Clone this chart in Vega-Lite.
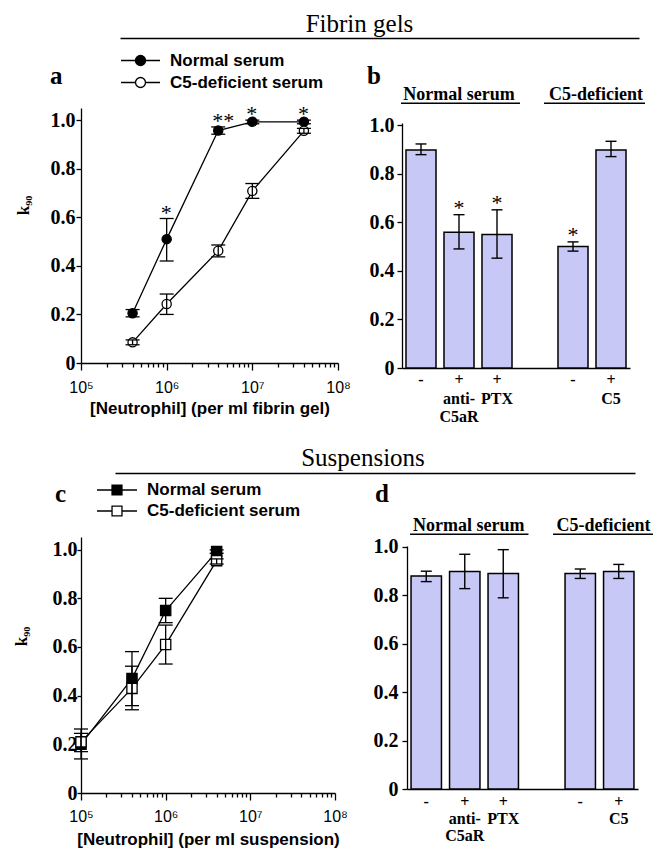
{
  "$schema": "https://vega.github.io/schema/vega-lite/v6.json",
  "background": "white",
  "padding": {"left": 12, "top": 11, "right": 4, "bottom": 4},
  "config": {
    "view": {"stroke": null},
    "axis": {"domainColor": "black", "domainWidth": 1.3, "tickColor": "black", "tickWidth": 1.3, "labelColor": "black", "titleColor": "black", "grid": false},
    "text": {"color": "black"}
  },
  "datasets": {
    "sections": [{"section": "Fibrin gels"}, {"section": "Suspensions"}],
    "fibrin_curves": [
      {"neutrophils": 400000, "serum": "Normal serum", "k90": 0.205, "lo": 0.19, "hi": 0.22, "sig": ""},
      {"neutrophils": 1000000, "serum": "Normal serum", "k90": 0.51, "lo": 0.42, "hi": 0.595, "sig": "*"},
      {"neutrophils": 4000000, "serum": "Normal serum", "k90": 0.957, "lo": 0.942, "hi": 0.972, "sig": "**"},
      {"neutrophils": 10000000, "serum": "Normal serum", "k90": 0.993, "lo": 0.985, "hi": 1.0, "sig": "*"},
      {"neutrophils": 40000000, "serum": "Normal serum", "k90": 0.993, "lo": 0.985, "hi": 1.0, "sig": "*"},
      {"neutrophils": 400000, "serum": "C5-deficient serum", "k90": 0.085, "lo": 0.075, "hi": 0.095, "sig": ""},
      {"neutrophils": 1000000, "serum": "C5-deficient serum", "k90": 0.243, "lo": 0.2, "hi": 0.284, "sig": ""},
      {"neutrophils": 4000000, "serum": "C5-deficient serum", "k90": 0.462, "lo": 0.437, "hi": 0.486, "sig": ""},
      {"neutrophils": 10000000, "serum": "C5-deficient serum", "k90": 0.708, "lo": 0.678, "hi": 0.739, "sig": ""},
      {"neutrophils": 40000000, "serum": "C5-deficient serum", "k90": 0.956, "lo": 0.946, "hi": 0.966, "sig": ""}
    ],
    "suspension_curves": [
      {"neutrophils": 100000, "serum": "Normal serum", "k90": 0.2, "lo": 0.14, "hi": 0.263},
      {"neutrophils": 400000, "serum": "Normal serum", "k90": 0.47, "lo": 0.359, "hi": 0.581},
      {"neutrophils": 1000000, "serum": "Normal serum", "k90": 0.75, "lo": 0.7, "hi": 0.8},
      {"neutrophils": 4000000, "serum": "Normal serum", "k90": 0.992, "lo": 0.985, "hi": 0.999},
      {"neutrophils": 100000, "serum": "C5-deficient serum", "k90": 0.21, "lo": 0.17, "hi": 0.245},
      {"neutrophils": 400000, "serum": "C5-deficient serum", "k90": 0.43, "lo": 0.342, "hi": 0.521},
      {"neutrophils": 1000000, "serum": "C5-deficient serum", "k90": 0.61, "lo": 0.53, "hi": 0.69},
      {"neutrophils": 4000000, "serum": "C5-deficient serum", "k90": 0.955, "lo": 0.941, "hi": 0.962}
    ],
    "fibrin_bars": [
      {"condition": "Normal serum", "k90": 0.897, "lo": 0.878, "hi": 0.922, "sig": ""},
      {"condition": "Normal serum + anti-C5aR", "k90": 0.559, "lo": 0.49, "hi": 0.631, "sig": "*"},
      {"condition": "Normal serum + PTX", "k90": 0.549, "lo": 0.452, "hi": 0.651, "sig": "*"},
      {"condition": "C5-deficient serum", "k90": 0.5, "lo": 0.481, "hi": 0.519, "sig": "*"},
      {"condition": "C5-deficient serum + C5", "k90": 0.897, "lo": 0.87, "hi": 0.933, "sig": ""}
    ],
    "suspension_bars": [
      {"condition": "Normal serum", "k90": 0.88, "lo": 0.857, "hi": 0.9},
      {"condition": "Normal serum + anti-C5aR", "k90": 0.899, "lo": 0.828, "hi": 0.97},
      {"condition": "Normal serum + PTX", "k90": 0.89, "lo": 0.79, "hi": 0.989},
      {"condition": "C5-deficient serum", "k90": 0.89, "lo": 0.87, "hi": 0.909},
      {"condition": "C5-deficient serum + C5", "k90": 0.899, "lo": 0.87, "hi": 0.928}
    ],
    "fibrin_bar_headers": [
      {"header": "Normal serum", "start": "Normal serum", "center": "Normal serum + anti-C5aR", "end": "Normal serum + PTX", "text_level": 1.103, "line_level": 1.09},
      {"header": "C5-deficient", "start": "C5-deficient serum", "center": "C5-deficient serum + C5", "end": "C5-deficient serum + C5", "text_level": 1.103, "line_level": 1.09}
    ],
    "suspension_bar_headers": [
      {"header": "Normal serum", "start": "Normal serum", "center": "Normal serum + anti-C5aR", "end": "Normal serum + PTX", "text_level": 1.066, "line_level": 1.053},
      {"header": "C5-deficient", "start": "C5-deficient serum", "center": "C5-deficient serum + C5", "end": "C5-deficient serum + C5", "text_level": 1.066, "line_level": 1.053}
    ]
  },
  "resolve": {"scale": {"fill": "independent"}, "legend": {"fill": "independent"}},
  "spacing": 21,
  "vconcat": [
    {
      "spacing": 14,
      "resolve": {"scale": {"fill": "independent"}, "legend": {"fill": "independent"}},
      "vconcat": [
        {
          "spacing": 10,
          "hconcat": [
            {"width": 29, "height": 13, "data": {"values": []}, "mark": "point"},
            {
              "width": 519, "height": 13,
              "data": {"name": "sections"},
              "transform": [{"filter": "datum.section == 'Fibrin gels'"}],
              "mark": {"type": "text", "font": "Liberation Serif", "fontSize": 25, "baseline": "alphabetic", "dx": -20, "color": "black"},
              "encoding": {
                "text": {"field": "section"},
                "x": {"datum": 0.5, "type": "quantitative", "scale": {"domain": [0, 1]}, "axis": {"domain": true, "domainWidth": 1.3, "ticks": false, "labels": false, "grid": false, "title": null}}
              }
            }
          ]
        },
        {
          "spacing": 16,
          "resolve": {"scale": {"fill": "shared"}, "legend": {"fill": "shared"}},
          "hconcat": [
            {
              "width": 257, "height": 255,
              "title": {"text": "a", "anchor": "start", "frame": "group", "font": "Liberation Serif", "fontSize": 25, "fontWeight": "bold", "color": "black", "dx": -31, "offset": 14},
              "data": {"name": "fibrin_curves"},
              "encoding": {
                "x": {"field": "neutrophils", "type": "quantitative", "scale": {"type": "log", "domain": [100000, 100000000]},
                  "axis": {
                    "title": "[Neutrophil] (per ml fibrin gel)",
                    "values": [100000, 200000, 300000, 400000, 500000, 600000, 700000, 800000, 900000, 1000000, 2000000, 3000000, 4000000, 5000000, 6000000, 7000000, 8000000, 9000000, 10000000, 20000000, 30000000, 40000000, 50000000, 60000000, 70000000, 80000000, 90000000, 100000000],
                    "labelExpr": "datum.value == 100000 ? '10⁵' : datum.value == 1000000 ? '10⁶' : datum.value == 10000000 ? '10⁷' : datum.value == 100000000 ? '10⁸' : ''",
                    "tickSize": {"condition": {"test": "indexof([100000, 1000000, 10000000, 100000000], datum.value) >= 0", "value": 7}, "value": 4},
                    "labelFont": "Liberation Sans", "labelFontSize": 16, "labelPadding": 9, "labelFlush": false, "labelOverlap": false,
                    "titleFont": "Liberation Sans", "titleFontSize": 17, "titleFontWeight": "bold", "titlePadding": 5
                  }
                },
                "y": {"field": "k90", "type": "quantitative", "scale": {"domain": [0, 1.05]},
                  "axis": {
                    "title": "k₉₀", "values": [0, 0.2, 0.4, 0.6, 0.8, 1],
                    "labelExpr": "datum.value == 0 ? '0' : format(datum.value, '.1f')",
                    "tickSize": 5, "labelFont": "Liberation Serif", "labelFontWeight": "bold", "labelFontSize": 20, "labelPadding": 1, "labelFlush": false,
                    "titleFont": "Liberation Serif", "titleFontWeight": "bold", "titleFontSize": 17, "titlePadding": 18, "titleY": 97
                  }
                }
              },
              "layer": [
                {"mark": {"type": "line", "color": "black", "strokeWidth": 1.3}, "encoding": {"detail": {"field": "serum"}}},
                {"mark": {"type": "point", "shape": "circle", "size": 85, "filled": true, "stroke": "black", "strokeWidth": 1.3, "opacity": 1},
                  "encoding": {"fill": {"field": "serum", "type": "nominal", "scale": {"domain": ["Normal serum", "C5-deficient serum"], "range": ["black", "white"]},
                    "legend": {"title": null, "orient": "none", "legendX": 51, "legendY": -56,
                      "symbolType": "M-2.5,0H-0.64A0.64,0.64 0 1,1 0.64,0A0.64,0.64 0 1,1 -0.64,0M0.64,0H2.5",
                      "symbolSize": 243, "symbolStrokeColor": "black", "symbolStrokeWidth": 1.3, "symbolOpacity": 1,
                      "labelFont": "Liberation Sans", "labelFontWeight": "bold", "labelFontSize": 17, "labelColor": "black", "labelOffset": 21, "rowPadding": 4, "labelLimit": 400}}}},
                {"mark": {"type": "rule", "color": "black", "strokeWidth": 1.3}, "encoding": {"y": {"field": "lo", "type": "quantitative"}, "y2": {"field": "hi"}}},
                {"mark": {"type": "tick", "orient": "horizontal", "color": "black", "size": 14, "thickness": 1.3, "opacity": 1}, "encoding": {"y": {"field": "lo", "type": "quantitative"}}},
                {"mark": {"type": "tick", "orient": "horizontal", "color": "black", "size": 14, "thickness": 1.3, "opacity": 1}, "encoding": {"y": {"field": "hi", "type": "quantitative"}}},
                {"transform": [{"filter": "datum.sig != ''"}],
                  "mark": {"type": "text", "font": "Liberation Serif", "fontSize": 22, "align": "left", "dx": -6, "dy": 1, "baseline": "alphabetic", "color": "black", "clip": false},
                  "encoding": {"y": {"field": "hi", "type": "quantitative"}, "text": {"field": "sig"}}}
              ]
            },
            {
              "width": 228, "height": 260,
              "title": {"text": "b", "anchor": "start", "frame": "group", "font": "Liberation Serif", "fontSize": 25, "fontWeight": "bold", "color": "black", "dx": -35, "offset": -3},
              "encoding": {
                "x": {"field": "condition", "type": "nominal",
                  "scale": {"domain": ["Normal serum", "Normal serum + anti-C5aR", "Normal serum + PTX", " ", "C5-deficient serum", "C5-deficient serum + C5"], "paddingInner": 0.21, "paddingOuter": 0.105},
                  "axis": {"title": null, "ticks": false, "labelAngle": 0,
                    "labelExpr": "datum.value == 'Normal serum' || datum.value == 'C5-deficient serum' ? '-' : datum.value == 'Normal serum + anti-C5aR' ? ['+', 'anti-', 'C5aR'] : datum.value == 'Normal serum + PTX' ? ['+', 'PTX'] : datum.value == 'C5-deficient serum + C5' ? ['+', 'C5'] : ''",
                    "labelFont": "Liberation Serif", "labelFontWeight": "bold", "labelFontSize": 16, "labelLineHeight": 18.5, "labelPadding": 3.5, "labelBaseline": "top"}},
                "y": {"field": "k90", "type": "quantitative", "scale": {"domain": [0, 1.07]},
                  "axis": {"title": null, "values": [0, 0.2, 0.4, 0.6, 0.8, 1], "domainDash": [245, 40],
                    "labelExpr": "datum.value == 0 ? '0' : format(datum.value, '.1f')",
                    "tickSize": 5, "labelFont": "Liberation Serif", "labelFontWeight": "bold", "labelFontSize": 20, "labelPadding": 3, "labelFlush": false}}
              },
              "layer": [
                {"data": {"name": "fibrin_bars"}, "mark": {"type": "bar", "fill": "#c8c8f7", "stroke": "black", "strokeWidth": 1.5}},
                {"data": {"name": "fibrin_bars"}, "mark": {"type": "rule", "color": "black", "strokeWidth": 1.4}, "encoding": {"y": {"field": "lo", "type": "quantitative"}, "y2": {"field": "hi"}}},
                {"data": {"name": "fibrin_bars"}, "mark": {"type": "tick", "orient": "horizontal", "color": "black", "size": 11, "thickness": 1.4, "opacity": 1}, "encoding": {"y": {"field": "lo", "type": "quantitative"}}},
                {"data": {"name": "fibrin_bars"}, "mark": {"type": "tick", "orient": "horizontal", "color": "black", "size": 11, "thickness": 1.4, "opacity": 1}, "encoding": {"y": {"field": "hi", "type": "quantitative"}}},
                {"data": {"name": "fibrin_bars"}, "transform": [{"filter": "datum.sig != ''"}],
                  "mark": {"type": "text", "font": "Liberation Serif", "fontSize": 22, "baseline": "alphabetic", "color": "black", "clip": false},
                  "encoding": {"y": {"field": "hi", "type": "quantitative"}, "text": {"field": "sig"}}},
                {"data": {"name": "fibrin_bar_headers"}, "transform": [{"filter": "datum.header == 'Normal serum'"}],
                  "mark": {"type": "text", "font": "Liberation Serif", "fontSize": 18, "fontWeight": "bold", "baseline": "alphabetic", "color": "black", "clip": false},
                  "encoding": {"x": {"field": "center", "type": "nominal", "bandPosition": 0.5}, "y": {"field": "text_level", "type": "quantitative"}, "text": {"field": "header", "type": "nominal"}}},
                {"data": {"name": "fibrin_bar_headers"}, "transform": [{"filter": "datum.header == 'C5-deficient'"}],
                  "mark": {"type": "text", "font": "Liberation Serif", "fontSize": 18, "fontWeight": "bold", "baseline": "alphabetic", "color": "black", "clip": false},
                  "encoding": {"x": {"field": "center", "type": "nominal", "bandPosition": 0}, "y": {"field": "text_level", "type": "quantitative"}, "text": {"field": "header", "type": "nominal"}}},
                {"data": {"name": "fibrin_bar_headers"}, "transform": [{"filter": "datum.header == 'Normal serum'"}],
                  "mark": {"type": "rule", "color": "black", "strokeWidth": 1.5, "xOffset": -5, "x2Offset": 8, "clip": false},
                  "encoding": {"x": {"field": "start", "type": "nominal", "bandPosition": 0}, "x2": {"field": "end", "bandPosition": 1}, "y": {"field": "line_level", "type": "quantitative"}}},
                {"data": {"name": "fibrin_bar_headers"}, "transform": [{"filter": "datum.header == 'C5-deficient'"}],
                  "mark": {"type": "rule", "color": "black", "strokeWidth": 1.5, "xOffset": -14, "x2Offset": 19, "clip": false},
                  "encoding": {"x": {"field": "start", "type": "nominal", "bandPosition": 0}, "x2": {"field": "end", "bandPosition": 1}, "y": {"field": "line_level", "type": "quantitative"}}}
              ]
            }
          ]
        }
      ]
    },
    {
      "spacing": 8,
      "resolve": {"scale": {"fill": "independent"}, "legend": {"fill": "independent"}},
      "vconcat": [
        {
          "spacing": 10,
          "hconcat": [
            {"width": 24, "height": 14, "data": {"values": []}, "mark": "point"},
            {
              "width": 520, "height": 14,
              "data": {"name": "sections"},
              "transform": [{"filter": "datum.section == 'Suspensions'"}],
              "mark": {"type": "text", "font": "Liberation Serif", "fontSize": 25, "baseline": "alphabetic", "dx": -12, "color": "black"},
              "encoding": {
                "text": {"field": "section"},
                "x": {"datum": 0.5, "type": "quantitative", "scale": {"domain": [0, 1]}, "axis": {"domain": true, "domainWidth": 1.3, "ticks": false, "labels": false, "grid": false, "title": null}}
              }
            }
          ]
        },
        {
          "spacing": 25,
          "resolve": {"scale": {"fill": "shared"}, "legend": {"fill": "shared"}},
          "hconcat": [
            {
              "width": 254, "height": 256,
              "title": {"text": "c", "anchor": "start", "frame": "group", "font": "Liberation Serif", "fontSize": 25, "fontWeight": "bold", "color": "black", "dx": -26, "offset": 30},
              "data": {"name": "suspension_curves"},
              "encoding": {
                "x": {"field": "neutrophils", "type": "quantitative", "scale": {"type": "log", "domain": [100000, 100000000]},
                  "axis": {
                    "title": "[Neutrophil] (per ml suspension)",
                    "values": [100000, 200000, 300000, 400000, 500000, 600000, 700000, 800000, 900000, 1000000, 2000000, 3000000, 4000000, 5000000, 6000000, 7000000, 8000000, 9000000, 10000000, 20000000, 30000000, 40000000, 50000000, 60000000, 70000000, 80000000, 90000000, 100000000],
                    "labelExpr": "datum.value == 100000 ? '10⁵' : datum.value == 1000000 ? '10⁶' : datum.value == 10000000 ? '10⁷' : datum.value == 100000000 ? '10⁸' : ''",
                    "tickSize": {"condition": {"test": "indexof([100000, 1000000, 10000000, 100000000], datum.value) >= 0", "value": 7}, "value": 4},
                    "labelFont": "Liberation Sans", "labelFontSize": 16, "labelPadding": 8, "labelFlush": false, "labelOverlap": false,
                    "titleFont": "Liberation Sans", "titleFontSize": 17, "titleFontWeight": "bold", "titlePadding": 7
                  }
                },
                "y": {"field": "k90", "type": "quantitative", "scale": {"domain": [0, 1.052]},
                  "axis": {
                    "title": "k₉₀", "values": [0, 0.2, 0.4, 0.6, 0.8, 1],
                    "labelExpr": "datum.value == 0 ? '0' : format(datum.value, '.1f')",
                    "tickSize": 4, "labelFont": "Liberation Serif", "labelFontWeight": "bold", "labelFontSize": 20, "labelPadding": 0, "labelFlush": false,
                    "titleFont": "Liberation Serif", "titleFontWeight": "bold", "titleFontSize": 17, "titlePadding": 22, "titleY": 99
                  }
                }
              },
              "layer": [
                {"mark": {"type": "line", "color": "black", "strokeWidth": 1.3}, "encoding": {"detail": {"field": "serum"}}},
                {"mark": {"type": "point", "shape": "square", "size": 105, "filled": true, "stroke": "black", "strokeWidth": 1.3, "opacity": 1},
                  "encoding": {"fill": {"field": "serum", "type": "nominal", "scale": {"domain": ["Normal serum", "C5-deficient serum"], "range": ["black", "white"]},
                    "legend": {"title": null, "orient": "none", "legendX": 27, "legendY": -56,
                      "symbolType": "M-2.5,0H-0.62M0.62,0H2.5M-0.62,-0.62H0.62V0.62H-0.62Z",
                      "symbolSize": 256, "symbolStrokeColor": "black", "symbolStrokeWidth": 1.3, "symbolOpacity": 1,
                      "labelFont": "Liberation Sans", "labelFontWeight": "bold", "labelFontSize": 17, "labelColor": "black", "labelOffset": 21, "rowPadding": 4, "labelLimit": 400}}}},
                {"mark": {"type": "rule", "color": "black", "strokeWidth": 1.3}, "encoding": {"y": {"field": "lo", "type": "quantitative"}, "y2": {"field": "hi"}}},
                {"mark": {"type": "tick", "orient": "horizontal", "color": "black", "size": 14, "thickness": 1.3, "opacity": 1}, "encoding": {"y": {"field": "lo", "type": "quantitative"}}},
                {"mark": {"type": "tick", "orient": "horizontal", "color": "black", "size": 14, "thickness": 1.3, "opacity": 1}, "encoding": {"y": {"field": "hi", "type": "quantitative"}}}
              ]
            },
            {
              "width": 231, "height": 252,
              "title": {"text": "d", "anchor": "start", "frame": "group", "font": "Liberation Serif", "fontSize": 25, "fontWeight": "bold", "color": "black", "dx": -32, "offset": 10},
              "encoding": {
                "x": {"field": "condition", "type": "nominal",
                  "scale": {"domain": ["Normal serum", "Normal serum + anti-C5aR", "Normal serum + PTX", " ", "C5-deficient serum", "C5-deficient serum + C5"], "paddingInner": 0.21, "paddingOuter": 0.105},
                  "axis": {"title": null, "ticks": false, "labelAngle": 0,
                    "labelExpr": "datum.value == 'Normal serum' || datum.value == 'C5-deficient serum' ? '-' : datum.value == 'Normal serum + anti-C5aR' ? ['+', 'anti-', 'C5aR'] : datum.value == 'Normal serum + PTX' ? ['+', 'PTX'] : datum.value == 'C5-deficient serum + C5' ? ['+', 'C5'] : ''",
                    "labelFont": "Liberation Serif", "labelFontWeight": "bold", "labelFontSize": 16, "labelLineHeight": 17, "labelPadding": 4, "labelBaseline": "top"}},
                "y": {"field": "k90", "type": "quantitative", "scale": {"domain": [0, 1.0413]},
                  "axis": {"title": null, "values": [0, 0.2, 0.4, 0.6, 0.8, 1], "domainDash": [243, 30],
                    "labelExpr": "datum.value == 0 ? '0' : format(datum.value, '.1f')",
                    "tickSize": 5, "labelFont": "Liberation Serif", "labelFontWeight": "bold", "labelFontSize": 20, "labelPadding": 4, "labelFlush": false}}
              },
              "layer": [
                {"data": {"name": "suspension_bars"}, "mark": {"type": "bar", "fill": "#c8c8f7", "stroke": "black", "strokeWidth": 1.5}},
                {"data": {"name": "suspension_bars"}, "mark": {"type": "rule", "color": "black", "strokeWidth": 1.4}, "encoding": {"y": {"field": "lo", "type": "quantitative"}, "y2": {"field": "hi"}}},
                {"data": {"name": "suspension_bars"}, "mark": {"type": "tick", "orient": "horizontal", "color": "black", "size": 11, "thickness": 1.4, "opacity": 1}, "encoding": {"y": {"field": "lo", "type": "quantitative"}}},
                {"data": {"name": "suspension_bars"}, "mark": {"type": "tick", "orient": "horizontal", "color": "black", "size": 11, "thickness": 1.4, "opacity": 1}, "encoding": {"y": {"field": "hi", "type": "quantitative"}}},
                {"data": {"name": "suspension_bar_headers"}, "transform": [{"filter": "datum.header == 'Normal serum'"}],
                  "mark": {"type": "text", "font": "Liberation Serif", "fontSize": 18, "fontWeight": "bold", "baseline": "alphabetic", "color": "black", "dx": 4, "clip": false},
                  "encoding": {"x": {"field": "center", "type": "nominal", "bandPosition": 0.5}, "y": {"field": "text_level", "type": "quantitative"}, "text": {"field": "header", "type": "nominal"}}},
                {"data": {"name": "suspension_bar_headers"}, "transform": [{"filter": "datum.header == 'C5-deficient'"}],
                  "mark": {"type": "text", "font": "Liberation Serif", "fontSize": 18, "fontWeight": "bold", "baseline": "alphabetic", "color": "black", "clip": false},
                  "encoding": {"x": {"field": "center", "type": "nominal", "bandPosition": 0}, "y": {"field": "text_level", "type": "quantitative"}, "text": {"field": "header", "type": "nominal"}}},
                {"data": {"name": "suspension_bar_headers"}, "transform": [{"filter": "datum.header == 'Normal serum'"}],
                  "mark": {"type": "rule", "color": "black", "strokeWidth": 1.5, "xOffset": -1, "x2Offset": 10, "clip": false},
                  "encoding": {"x": {"field": "start", "type": "nominal", "bandPosition": 0}, "x2": {"field": "end", "bandPosition": 1}, "y": {"field": "line_level", "type": "quantitative"}}},
                {"data": {"name": "suspension_bar_headers"}, "transform": [{"filter": "datum.header == 'C5-deficient'"}],
                  "mark": {"type": "rule", "color": "black", "strokeWidth": 1.5, "xOffset": -12, "x2Offset": 19, "clip": false},
                  "encoding": {"x": {"field": "start", "type": "nominal", "bandPosition": 0}, "x2": {"field": "end", "bandPosition": 1}, "y": {"field": "line_level", "type": "quantitative"}}}
              ]
            }
          ]
        }
      ]
    }
  ]
}
